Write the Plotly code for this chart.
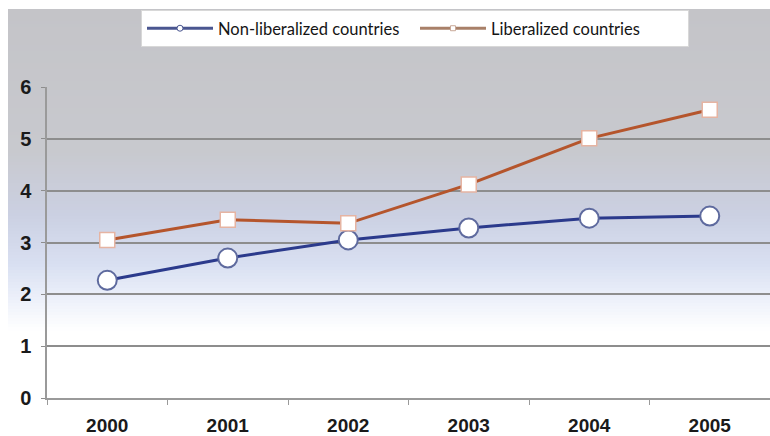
import plotly.graph_objects as go

years = ["2000", "2001", "2002", "2003", "2004", "2005"]
non_liberalized = [2.27, 2.70, 3.05, 3.28, 3.47, 3.51]
liberalized = [3.05, 3.44, 3.37, 4.12, 5.01, 5.56]
y_ticks = [0, 1, 2, 3, 4, 5, 6]
series_names = ["Non-liberalized countries", "Liberalized countries"]

W, H = 770, 436
L, R, T, B = 47, 0, 87, 38
pw = W - L - R
ph = H - T - B

def px_to_paper_x(px):
    return (px - L) / pw

def px_to_paper_y(py):
    return (H - B - py) / ph

def hex2rgb(h):
    h = h.lstrip("#")
    return tuple(int(h[i:i + 2], 16) for i in (0, 2, 4))

stops = [(9, "#c4c4c8"), (150, "#c8c9ce"), (215, "#cbd0e2"), (265, "#d9e0f2"),
         (305, "#f0f3fb"), (330, "#ffffff")]

def color_at(py):
    for (y0, c0), (y1, c1) in zip(stops[:-1], stops[1:]):
        if y0 <= py <= y1:
            t = (py - y0) / (y1 - y0)
            a, b = hex2rgb(c0), hex2rgb(c1)
            return "rgb(%d,%d,%d)" % tuple(round(a[i] + (b[i] - a[i]) * t) for i in range(3))
    return "#ffffff"

shapes = []
step = 3
py = 9
while py < 330:
    shapes.append(dict(type="rect", xref="paper", yref="paper", layer="below",
                       x0=px_to_paper_x(8), x1=px_to_paper_x(771),
                       y0=px_to_paper_y(py + step + 0.5), y1=px_to_paper_y(py),
                       fillcolor=color_at(py + step / 2), line=dict(width=0)))
    py += step

blue = "#2b3a8c"
orange = "#b5552c"

fig = go.Figure()
fig.add_trace(go.Scatter(
    x=years, y=non_liberalized, name=series_names[0], showlegend=False,
    mode="lines+markers",
    line=dict(color=blue, width=3),
    marker=dict(symbol="circle", size=19, color="white",
                line=dict(color="#5e6a9e", width=2)),
))
fig.add_trace(go.Scatter(
    x=years, y=liberalized, name=series_names[1], showlegend=False,
    mode="lines+markers",
    line=dict(color=orange, width=3),
    marker=dict(symbol="square", size=15, color="white",
                line=dict(color="#e6b4a2", width=1.5)),
))
# legend-only entries with small markers, as in the original legend
fig.add_trace(go.Scatter(
    x=[None], y=[None], name=series_names[0], mode="lines+markers",
    line=dict(color="#4a5690", width=3),
    marker=dict(symbol="circle", size=6, color="white", line=dict(color="#4a5690", width=1)),
))
fig.add_trace(go.Scatter(
    x=[None], y=[None], name=series_names[1], mode="lines+markers",
    line=dict(color="#a88068", width=3),
    marker=dict(symbol="square", size=5, color="white", line=dict(color="#c8a898", width=1)),
))

fig.update_layout(
    width=W, height=H,
    margin=dict(l=L, r=R, t=T, b=B, autoexpand=False),
    paper_bgcolor="white",
    plot_bgcolor="rgba(0,0,0,0)",
    shapes=shapes,
    showlegend=True,
    legend=dict(
        orientation="h",
        x=px_to_paper_x(141), xanchor="left",
        y=px_to_paper_y(10), yanchor="top",
        bgcolor="white", bordercolor="#d8d8d8", borderwidth=1,
        font=dict(family="Lato", size=16.5, color="#151515"),
        itemwidth=66, entrywidth=192, tracegroupgap=0,
    ),
    xaxis=dict(
        type="category", range=[-0.5, 5.5], automargin=False,
        showgrid=False, showline=True, linecolor="#9a9a9a", linewidth=1.5,
        ticks="outside", tickson="boundaries", ticklen=5, tickcolor="#9a9a9a",
        ticklabelstandoff=9,
        tickfont=dict(family="Liberation Sans", size=19, color="#1a1a1a"),
    ),
    yaxis=dict(
        range=[0, 6], tickvals=y_ticks, automargin=False,
        showgrid=True, gridcolor="#8d8d8d", gridwidth=1.5,
        zeroline=False, showline=True, linecolor="#9a9a9a", linewidth=1.5,
        ticks="outside", ticklen=4, tickcolor="#8d8d8d",
        ticklabelstandoff=6,
        tickfont=dict(family="Liberation Sans", size=20, color="#1a1a1a"),
    ),
)
fig.update_xaxes(tickfont_weight="bold")
fig.update_yaxes(tickfont_weight="bold")

fig.write_html("out.html")
